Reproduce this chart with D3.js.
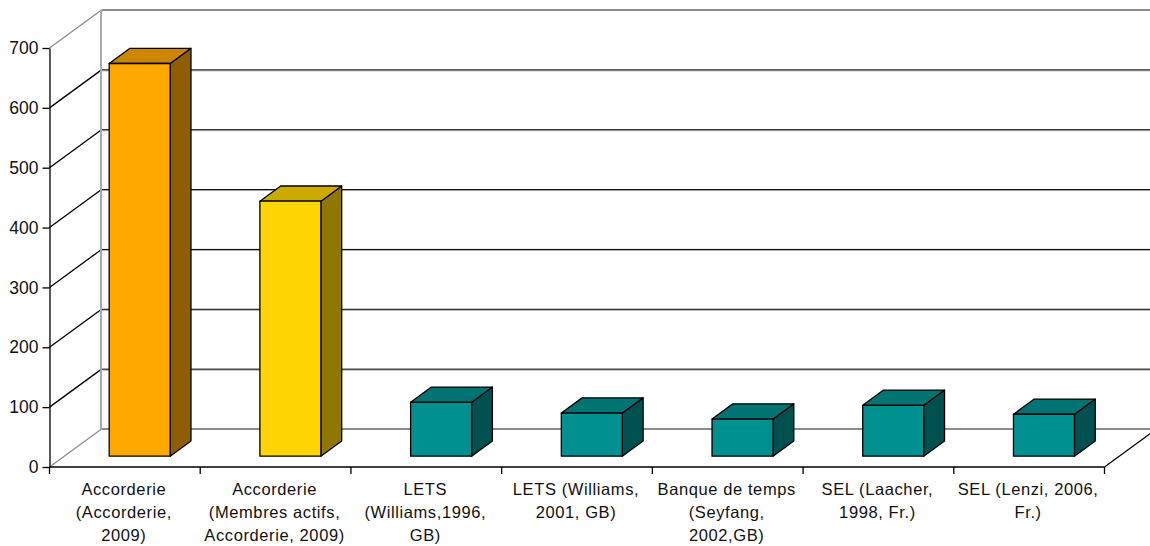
<!DOCTYPE html>
<html>
<head>
<meta charset="utf-8">
<script src="https://cdn.jsdelivr.net/npm/d3@7"></script>
<style>
html, body { margin: 0; background: #fff; }
svg { display: block; }
text { font-family: "Liberation Sans", Arial, sans-serif; fill: #111; }
</style>
</head>
<body>
<svg id="chart" width="1150" height="546"></svg>
<script>
const categories = [
    ["Accorderie", "(Accorderie,", "2009)"],
    ["Accorderie", "(Membres actifs,", "Accorderie, 2009)"],
    ["LETS", "(Williams,1996,", "GB)"],
    ["LETS (Williams,", "2001, GB)"],
    ["Banque de temps", "(Seyfang,", "2002,GB)"],
    ["SEL (Laacher,", "1998, Fr.)"],
    ["SEL (Lenzi, 2006,", "Fr.)"]
];
const values = [656, 426, 90, 72, 62, 85, 70];
const fronts = ["#ffa800", "#ffd400", "#009090", "#009090", "#009090", "#009090", "#009090"];
const tops = ["#cc8600", "#ccaa00", "#007373", "#007373", "#007373", "#007373", "#007373"];
const sides = ["#8f5e00", "#8f7700", "#005050", "#005050", "#005050", "#005050", "#005050"];
const yTicks = [0, 100, 200, 300, 400, 500, 600, 700];

const svg = d3.select("#chart");
const depthX = 52, depthY = 38;
const y = d3.scaleLinear().domain([0, 700]).range([467, 48]);
const x = d3.scaleBand().domain(d3.range(categories.length)).range([49.5, 1104.5]);
const barWidth = 61;
// bars sit between these two fractions of the floor depth
const barNear = 0.285, barFar = 0.685;

const grey = "#8c8c8c";
const walls = svg.append("g").attr("fill", "none");

// back wall gridlines and the diagonals on the left wall
yTicks.forEach(t => {
    const edge = t === 0 || t === 700;
    walls.append("path")
        .attr("d", `M${x.range()[0]},${y(t)}L${x.range()[0] + depthX},${y(t) - depthY}`)
        .attr("stroke", edge ? grey : "#000")
        .attr("stroke-width", 1.3);
    if (edge) return;
    walls.append("line")
        .attr("x1", x.range()[0] + depthX).attr("x2", 1150)
        .attr("y1", y(t) - depthY + 1).attr("y2", y(t) - depthY + 1)
        .attr("stroke", "#aaa");
    walls.append("line")
        .attr("x1", x.range()[0] + depthX).attr("x2", 1150)
        .attr("y1", y(t) - depthY).attr("y2", y(t) - depthY)
        .attr("stroke", "#000");
});
[0, 700].forEach(t => {
    walls.append("line")
        .attr("x1", x.range()[0] + depthX).attr("x2", 1150)
        .attr("y1", y(t) - depthY).attr("y2", y(t) - depthY)
        .attr("stroke", grey).attr("stroke-width", 2);
});
walls.append("line")
    .attr("x1", x.range()[0] + depthX - 0.5).attr("x2", x.range()[0] + depthX - 0.5)
    .attr("y1", y(700) - depthY).attr("y2", y(0) - depthY)
    .attr("stroke", "#aaa").attr("stroke-width", 2);
// right edge of the floor
walls.append("path")
    .attr("d", `M${x.range()[1]},${y(0)}L${x.range()[1] + depthX},${y(0) - depthY}`)
    .attr("stroke", "#000").attr("stroke-width", 1.3);

// bars
const bars = svg.append("g").attr("stroke", "#000").attr("stroke-width", 1.3).attr("stroke-linejoin", "round");
values.forEach((v, i) => {
    const x0 = x(i) + x.bandwidth() / 2 - barWidth / 2 + depthX * barNear;
    const x1 = x0 + barWidth;
    const base = y(0) - depthY * barNear;
    const top = base - (y(0) - y(v));
    const dx = depthX * (barFar - barNear);
    const dy = depthY * (barFar - barNear);
    bars.append("path").attr("fill", sides[i])
        .attr("d", `M${x1},${top}L${x1 + dx},${top - dy}L${x1 + dx},${base - dy}L${x1},${base}Z`);
    bars.append("path").attr("fill", tops[i])
        .attr("d", `M${x0},${top}L${x0 + dx},${top - dy}L${x1 + dx},${top - dy}L${x1},${top}Z`);
    bars.append("rect").attr("fill", fronts[i])
        .attr("x", x0).attr("y", top).attr("width", barWidth).attr("height", base - top);
});

// axes
const yAxis = svg.append("g").attr("transform", `translate(${x.range()[0]},0)`)
    .call(d3.axisLeft(y).tickValues(yTicks).tickSize(7).tickSizeOuter(0).tickPadding(4));
yAxis.selectAll("line, path").attr("stroke", "#000").attr("stroke-width", 1.3);
yAxis.selectAll("text").attr("font-size", 17.5).attr("font-family", null).attr("fill", null);

svg.append("line")
    .attr("x1", x.range()[0]).attr("x2", x.range()[1])
    .attr("y1", y(0)).attr("y2", y(0))
    .attr("stroke", "#000").attr("stroke-width", 1.3);
d3.range(categories.length + 1).forEach(i => {
    const px = x.range()[0] + i * x.step();
    svg.append("line")
        .attr("x1", px).attr("x2", px)
        .attr("y1", y(0)).attr("y2", y(0) + 7)
        .attr("stroke", "#000").attr("stroke-width", 1.3);
});

// category labels
const labels = svg.append("g").attr("text-anchor", "middle").attr("font-size", 16.5);
categories.forEach((lines, i) => {
    const t = labels.append("text")
        .attr("x", x(i) + x.bandwidth() / 2)
        .attr("y", 494.5)
        .attr("letter-spacing", 0.6);
    lines.forEach((s, j) => {
        t.append("tspan")
            .attr("x", x(i) + x.bandwidth() / 2 - 1)
            .attr("dy", j ? 23 : 0)
            .text(s);
    });
});
</script>
</body>
</html>
